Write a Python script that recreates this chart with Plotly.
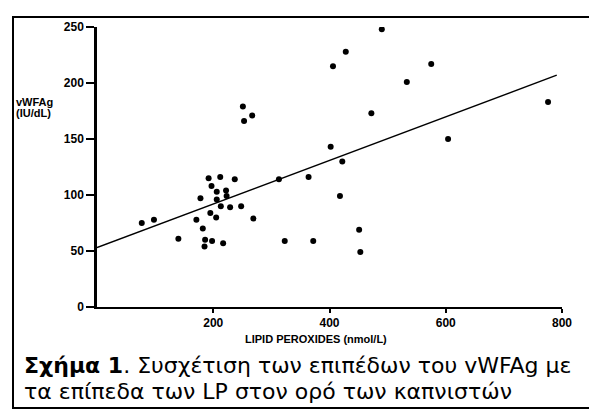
import plotly.graph_objects as go

# Scatter data
lp_x = [77, 98, 140, 171, 178, 192, 212, 237, 197, 206, 222, 206, 223, 213, 229, 248,
        195, 205, 269, 182, 186, 198, 185, 217, 313, 251, 267, 253, 490, 428, 406, 575,
        533, 472, 776, 402, 604, 422, 364, 418, 451, 453, 323, 372]
vwf_y = [75, 78, 61, 78, 97, 115, 116, 114, 108, 103, 104, 96, 99, 90, 89, 90,
         84, 80, 79, 70, 60, 59, 54, 57, 114, 179, 171, 166, 248, 228, 215, 217,
         201, 173, 183, 143, 150, 130, 116, 99, 69, 49, 59, 59]

# Regression line endpoints
fit_x = [0, 791]
fit_y = [53, 207]

x_ticks = [200, 400, 600, 800]
y_ticks = [0, 50, 100, 150, 200, 250]

FONT = "Liberation Sans, Arial, sans-serif"
CAP_FONT = "DejaVu Sans, sans-serif"

# page has 8px body margin; figure is placed at (8, 8)
OFF = 8
W, H = 597 - OFF, 412 - OFF
L, R, T, B = 97, 562, 24, 307  # plot area in page pixels
PW, PH = R - L, B - T


def px(x):
    return (x - L) / PW


def py(y):
    return (B - y) / PH


fig = go.Figure()
fig.add_trace(go.Scatter(x=fit_x, y=fit_y, mode="lines",
                         line=dict(color="black", width=1.5), showlegend=False,
                         hoverinfo="skip"))
fig.add_trace(go.Scatter(x=lp_x, y=vwf_y, mode="markers",
                         marker=dict(color="black", size=6), showlegend=False))

fig.update_layout(
    width=W, height=H,
    margin=dict(l=L - OFF, r=W - (R - OFF), t=T - OFF, b=H - (B - OFF)),
    paper_bgcolor="white", plot_bgcolor="white",
    font=dict(family=FONT, color="black"),
    xaxis=dict(range=[0, 800], tickvals=x_ticks, showgrid=False, zeroline=False,
               showline=True, linecolor="black", linewidth=2,
               ticks="outside", ticklen=4, tickcolor="black", tickwidth=1.5,
               tickfont=dict(size=12, family=FONT, weight="bold")),
    yaxis=dict(range=[0, 250], tickvals=y_ticks, showgrid=False, zeroline=False,
               showline=True, linecolor="black", linewidth=2.5,
               ticks="outside", ticklen=8, tickcolor="black", tickwidth=1.5,
               tickfont=dict(size=12, family=FONT, weight="bold")),
)

# frame around whole figure
fig.add_shape(type="rect", xref="paper", yref="paper",
              x0=px(13), x1=px(592), y0=py(409), y1=py(14),
              line=dict(color="black", width=2), layer="below")

fig.add_annotation(xref="paper", yref="paper", x=px(14), y=py(100),
                   xanchor="left", yanchor="middle", showarrow=False,
                   text="<b>vWFAg</b>", font=dict(size=11, family=FONT))
fig.add_annotation(xref="paper", yref="paper", x=px(14), y=py(111),
                   xanchor="left", yanchor="middle", showarrow=False,
                   text="<b>(IU/dL)</b>", font=dict(size=11, family=FONT))
fig.add_annotation(xref="paper", yref="paper", x=px(316), y=py(339),
                   xanchor="center", yanchor="middle", showarrow=False,
                   text="<b>LIPID PEROXIDES (nmol/L)</b>", font=dict(size=11, family=FONT))
fig.add_annotation(xref="paper", yref="paper", x=px(22), y=py(366),
                   xanchor="left", yanchor="middle", showarrow=False,
                   text="<b>Σχήμα 1</b>. Συσχέτιση των επιπέδων του vWFAg με",
                   font=dict(size=22, family=CAP_FONT))
fig.add_annotation(xref="paper", yref="paper", x=px(22), y=py(392),
                   xanchor="left", yanchor="middle", showarrow=False,
                   text="τα επίπεδα των LP στον ορό των καπνιστών",
                   font=dict(size=22, family=CAP_FONT))

fig.write_html("out.html")
